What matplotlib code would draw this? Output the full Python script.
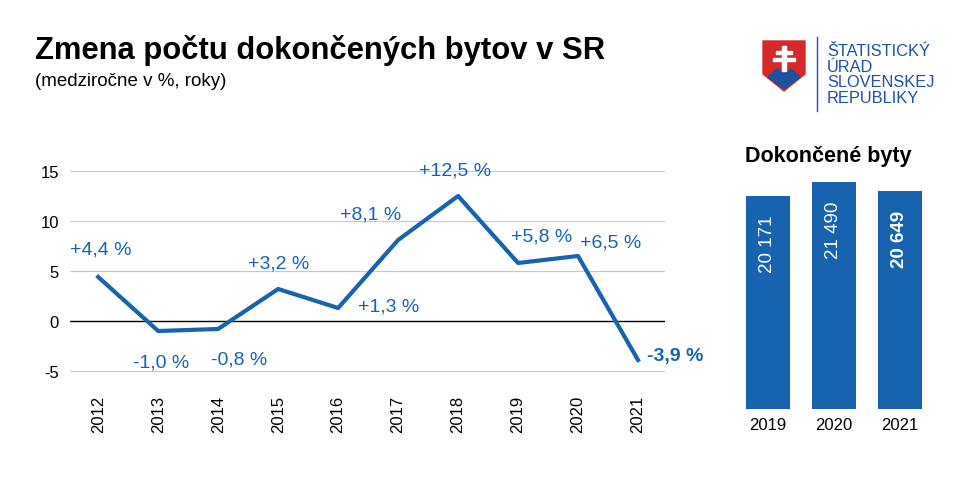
import matplotlib
matplotlib.use("Agg")
import matplotlib.pyplot as plt
from matplotlib.patches import Polygon, Rectangle

years = ["2012","2013","2014","2015","2016","2017","2018","2019","2020","2021"]
change = [4.4,-1.0,-0.8,3.2,1.3,8.1,12.5,5.8,6.5,-3.9]
labels = ["+4,4 %","-1,0 %","-0,8 %","+3,2 %","+1,3 %","+8,1 %","+12,5 %","+5,8 %","+6,5 %","-3,9 %"]
bar_years = ["2019","2020","2021"]
bar_vals = [20171,21490,20649]
bar_labels = ["20 171","21 490","20 649"]

BLUE = "#1763b0"
W, H = 970, 485
fig = plt.figure(figsize=(9.7,4.85), dpi=100)
plt.rcParams["font.family"] = "Liberation Sans"

def ax_px(x0,y0,x1,y1):
    return fig.add_axes([x0/W, 1-y1/H, (x1-x0)/W, (y1-y0)/H])

fig.text(35/W, 1-50/H, "Zmena počtu dokončených bytov v SR", fontsize=22.3, fontweight="bold", va="center")
fig.text(35/W, 1-81/H, "(medziročne v %, roky)", fontsize=13.5, va="center")

ax = ax_px(70,160,665,385)
x = list(range(len(years)))
ax.plot(x, change, color=BLUE, lw=3)
ax.set_xlim(-0.47, 9.45)
ax.set_ylim(-6.3, 16.2)
ax.set_yticks([-5,0,5,10,15])
ax.set_yticklabels(["-5","0","5","10","15"], fontsize=12)
for v in [-5,5,10,15]:
    ax.axhline(v, color="#c8c8c8", lw=0.8, zorder=0)
ax.axhline(0, color="black", lw=1, zorder=0)
ax.set_xticks(x)
ax.set_xticklabels(years, rotation=90, fontsize=12)
ax.tick_params(length=0, pad=8)
for s in ax.spines.values(): s.set_visible(False)
offs = [(0.05,2.8),(0.05,-3.1),(0.35,-3.0),(0.0,2.6),(0.85,0.2),(-0.45,2.6),(-0.05,2.6),(0.4,2.7),(0.55,1.4),(0.62,0.4)]
for i,(v,l,(dx,dy)) in enumerate(zip(change,labels,offs)):
    ax.text(i+dx, v+dy, l, color=BLUE, fontsize=14, ha="center", va="center",
            fontweight="bold" if i==9 else "normal")

fig.text(828/W, 1-157/H, "Dokončené byty", fontsize=15.5, fontweight="bold", ha="center", va="center")
bx = ax_px(735,160,933,410)
bx.bar(range(3), bar_vals, width=0.68, color=BLUE)
bx.set_xlim(-0.5,2.5)
bx.set_ylim(0, 21490*250/227)
bx.set_yticks([])
bx.set_xticks(range(3)); bx.set_xticklabels(bar_years, fontsize=12)
bx.tick_params(length=0, pad=6)
for s in bx.spines.values(): s.set_visible(False)
for i,(v,l) in enumerate(zip(bar_vals,bar_labels)):
    bx.text(i, v-1800, l, rotation=90, color="white", fontsize=13.5, ha="center", va="top",
            fontweight="bold" if i==2 else "normal")

lg = ax_px(755,35,960,115)
lg.set_xlim(755,960); lg.set_ylim(115,35); lg.axis("off")
lg.add_patch(Polygon([(763,42),(805,42),(805,75),(784,92),(763,75)], closed=True, color="#d42a2a"))
lg.add_patch(Polygon([(768,78),(777,70),(784,74),(791,70),(800,78),(784,90)], closed=True, color="#1e50a0"))
lg.add_patch(Rectangle((782,47),4,25,color="white"))
lg.add_patch(Rectangle((776,52),16,3,color="white"))
lg.add_patch(Rectangle((773,59),22,3,color="white"))
lg.plot([817,817],[38,112], color="#1e50a0", lw=1)
lg.text(827,75,"ŠTATISTICKÝ\nÚRAD\nSLOVENSKEJ\nREPUBLIKY", color="#1e50a0", fontsize=11.8, va="center", ha="left", linespacing=1.05)

fig.savefig("out.png", dpi=100)
